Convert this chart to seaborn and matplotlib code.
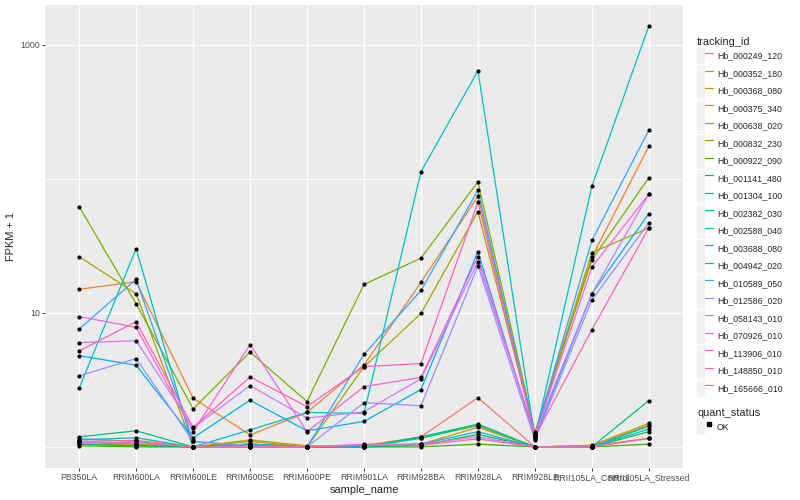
import matplotlib
matplotlib.use("Agg")
import matplotlib.pyplot as plt
from matplotlib.lines import Line2D
from matplotlib.patches import Rectangle
from matplotlib.legend_handler import HandlerTuple
from matplotlib.ticker import FixedLocator, NullFormatter
import seaborn as sns
import numpy as np
import pandas as pd

# sample order on the x axis
samples = ["PB350LA", "RRIM600LA", "RRIM600LE", "RRIM600SE", "RRIM600PE",
           "RRIM901LA", "RRIM928BA", "RRIM928LA", "RRIM928LE",
           "RRII105LA_Control", "RRII105LA_Stressed"]

tracking_ids = ["Hb_000249_120", "Hb_000352_180", "Hb_000368_080", "Hb_000375_340",
                "Hb_000638_020", "Hb_000832_230", "Hb_000922_090", "Hb_001141_480",
                "Hb_001304_100", "Hb_002382_030", "Hb_002588_040", "Hb_003688_080",
                "Hb_004942_020", "Hb_010589_050", "Hb_012586_020", "Hb_058143_010",
                "Hb_070926_010", "Hb_113906_010", "Hb_148850_010", "Hb_165666_010"]

# ggplot default hue palette for 20 levels
colors = ["#F8766D", "#EA8331", "#D89000", "#C09B00", "#A3A500", "#7CAE00", "#39B600",
          "#00BB4E", "#00BF7D", "#00C1A3", "#00BFC4", "#00BAE0", "#00B0F6", "#35A2FF",
          "#9590FF", "#C77CFF", "#E76BF3", "#FA62DB", "#FF62BC", "#FF6C91"]

# FPKM + 1 per sample
hb_000249_120 = [1.08, 1.05, 1.0, 1.02, 1.0, 1.02, 1.19, 2.33, 1.0, 1.02, 1.16]
hb_000352_180 = [15.0, 17.1, 2.31, 1.23, 1.81, 4.09, 16.9, 74, 1.23, 26.0, 175]
hb_000368_080 = [1.05, 1.03, 1.0, 1.05, 1.0, 1.03, 1.17, 1.44, 1.0, 1.03, 1.50]
hb_000375_340 = [1.10, 1.05, 1.0, 1.13, 1.02, 1.02, 1.05, 1.40, 1.0, 1.02, 1.45]
hb_000638_020 = [26.3, 13.9, 1.0, 1.10, 1.0, 3.97, 9.9, 57, 1.25, 28.2, 43]
hb_000832_230 = [62, 11.7, 1.92, 5.1, 2.18, 16.3, 25.6, 95, 1.29, 24.9, 102]
hb_000922_090 = [1.02, 1.0, 1.0, 1.0, 1.0, 1.0, 1.0, 1.05, 1.0, 1.0, 1.05]
hb_001141_480 = [1.05, 1.02, 1.0, 1.0, 1.0, 1.0, 1.03, 1.24, 1.0, 1.0, 1.30]
hb_001304_100 = [1.19, 1.32, 1.0, 1.02, 1.0, 1.0, 1.19, 1.48, 1.0, 1.0, 2.22]
hb_002382_030 = [1.13, 1.17, 1.0, 1.05, 1.0, 1.0, 1.16, 1.46, 1.0, 1.0, 1.43]
hb_002588_040 = [2.74, 30.2, 1.0, 1.34, 1.81, 1.78, 113, 640, 1.17, 88, 1380]
hb_003688_080 = [1.15, 1.10, 1.0, 1.05, 1.0, 1.02, 1.05, 1.30, 1.0, 1.0, 1.36]
hb_004942_020 = [4.8, 4.07, 1.17, 2.23, 1.32, 1.55, 2.68, 28.7, 1.17, 13.9, 55]
hb_010589_050 = [7.6, 17.8, 1.10, 1.02, 1.0, 4.9, 14.7, 82, 1.21, 34.7, 231]
hb_012586_020 = [3.39, 4.56, 1.10, 1.02, 1.0, 2.14, 2.03, 22.4, 1.13, 12.5, 47]
hb_058143_010 = [6.0, 6.2, 1.39, 2.87, 1.64, 1.83, 3.22, 24.0, 1.25, 13.9, 77]
hb_070926_010 = [1.08, 1.08, 1.0, 1.0, 1.0, 1.05, 1.05, 1.19, 1.0, 1.0, 1.16]
hb_113906_010 = [9.4, 7.8, 1.30, 5.8, 1.30, 2.82, 3.3, 26.3, 1.21, 21.9, 77]
hb_148850_010 = [5.2, 8.6, 1.40, 3.33, 2.0, 3.97, 4.19, 67, 1.19, 7.5, 43]
hb_165666_010 = [1.10, 1.12, 1.0, 1.0, 1.0, 1.03, 1.03, 1.15, 1.0, 1.0, 1.16]

series = [hb_000249_120, hb_000352_180, hb_000368_080, hb_000375_340, hb_000638_020,
          hb_000832_230, hb_000922_090, hb_001141_480, hb_001304_100, hb_002382_030,
          hb_002588_040, hb_003688_080, hb_004942_020, hb_010589_050, hb_012586_020,
          hb_058143_010, hb_070926_010, hb_113906_010, hb_148850_010, hb_165666_010]

# long table for seaborn
rows = []
for tid, vals in zip(tracking_ids, series):
    for i, (s, v) in enumerate(zip(samples, vals)):
        rows.append({"tracking_id": tid, "sample_name": s, "pos": i, "fpkm": v})
df = pd.DataFrame(rows)

sns.set_style("darkgrid", {"axes.facecolor": "#EBEBEB", "grid.color": "white"})
plt.rcParams["font.family"] = ["Liberation Sans", "DejaVu Sans"]

fig, ax = plt.subplots(figsize=(8, 5), dpi=100)
fig.subplots_adjust(left=0.05625, right=0.85375, top=0.99, bottom=0.064)

palette = dict(zip(tracking_ids, colors))
sns.lineplot(data=df, x="pos", y="fpkm", hue="tracking_id", hue_order=tracking_ids,
             palette=palette, sort=False, estimator=None, legend=False, lw=0.9, ax=ax)
sns.scatterplot(data=df, x="pos", y="fpkm", color="black", s=9, linewidth=0,
                legend=False, ax=ax, zorder=3)

ax.set_yscale("log")
lmin, lmax = np.log10(df["fpkm"].min()), np.log10(df["fpkm"].max())
pad = 0.05 * (lmax - lmin)
ax.set_ylim(10 ** (lmin - pad), 10 ** (lmax + pad))
ax.set_xlim(-0.6, len(samples) - 0.4)

ax.yaxis.set_major_locator(FixedLocator([10, 1000]))
ax.set_yticklabels(["10", "1000"])
ax.yaxis.set_minor_locator(FixedLocator([1, 100]))
ax.yaxis.set_minor_formatter(NullFormatter())
ax.set_xticks(range(len(samples)))
ax.set_xticklabels(samples)

ax.grid(which="major", color="white", lw=1.0)
ax.grid(which="minor", axis="y", color="white", lw=0.6)
ax.set_axisbelow(True)
for sp in ax.spines.values():
    sp.set_visible(False)

ax.tick_params(which="major", labelsize=6.3, labelcolor="#4D4D4D", color="#333333",
               length=2.2, width=0.7, pad=1.5, bottom=True, left=True)
ax.tick_params(which="minor", length=0)

ax.set_xlabel("sample_name", fontsize=7.9, labelpad=2)
ax.set_ylabel("FPKM + 1", fontsize=7.9, labelpad=3)

# legends, ggplot-like grey keys
key_bg = "#F2F2F2"
leg_kw = dict(loc="upper left", fontsize=6.3, title_fontsize=7.9, frameon=False,
              handler_map={tuple: HandlerTuple(ndivide=None, pad=0)},
              handlelength=1.83, handleheight=2.62, labelspacing=0.05,
              handletextpad=0.45, borderpad=0, borderaxespad=0, alignment="left")

handles = [(Rectangle((0, 0), 1, 1, fc=key_bg, ec="none"), Line2D([], [], color=c, lw=0.9))
           for c in colors]
leg1 = fig.legend(handles, tracking_ids, bbox_to_anchor=(697 / 800, 1 - 37 / 500),
                  title="tracking_id", **leg_kw)

ok_handle = (Rectangle((0, 0), 1, 1, fc=key_bg, ec="none"),
             Line2D([], [], color="black", marker="s", ms=2.4, lw=0))
leg2 = fig.legend([ok_handle], ["OK"], bbox_to_anchor=(697 / 800, 1 - 408 / 500),
                  title="quant_status", **leg_kw)

fig.savefig("out.png", dpi=100)
